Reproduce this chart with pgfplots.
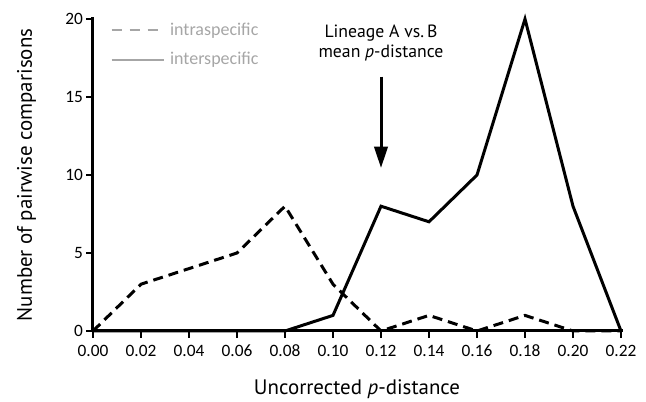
\documentclass[border=0pt]{standalone}
\usepackage{pgfplots}
\pgfplotsset{compat=1.18}
\usetikzlibrary{arrows.meta}
\usepackage{fontspec}
\setmainfont{Carlito}
\newfontfamily\labelfont{PT Sans}
\definecolor{leggray}{HTML}{A6A6A6}

\begin{document}
\begin{tikzpicture}
\begin{axis}[
    name=ax,
    scale only axis, width=396pt, height=234pt,
    xmin=0, xmax=0.22, ymin=0, ymax=20,
    axis line style={draw=none},
    xtick pos=bottom, ytick pos=left,
    xtick={0,0.02,...,0.22}, ytick={0,5,10,15,20},
    tick align=outside, major tick length=5pt,
    every major tick/.append style={draw=black, line width=1.8pt},
    /pgf/number format/assume math mode=true,
    ticklabel style={font=\fontsize{13}{15}\selectfont},
    xticklabel style={yshift=-2pt, /pgf/number format/.cd, fixed, fixed zerofill, precision=2},
    yticklabel style={xshift=1pt},
    xlabel={Uncorrected \textit{p}-distance}, ylabel={Number of pairwise comparisons},
    label style={font=\labelfont\fontsize{15.7}{18}\selectfont},
    xlabel style={at={(rel axis cs:0.5,0)}, anchor=base, yshift=-48pt},
    ylabel style={at={(rel axis cs:0,0.5)}, anchor=base, yshift=45.75pt},
    clip=false,
    legend style={draw=none, fill=none, at={(rel axis cs:0,1)}, anchor=north west,
        xshift=10pt, yshift=1.5pt, font=\fontsize{13.5}{15}\selectfont, text=leggray,
        row sep=7.5pt, nodes={inner sep=2pt}},
    legend cell align=left,
    legend image code/.code={\draw[#1] (0pt,0pt) -- (39pt,0pt);},
]
\addlegendimage{leggray, line width=1.6pt, dash pattern=on 7.5pt off 6pt}
\addlegendentry{\hspace{2pt}intraspecific}
\addlegendimage{leggray, line width=1.6pt}
\addlegendentry{\hspace{2pt}interspecific}

% axis lines (left and bottom only)
\draw[line width=2.25pt, line cap=rect] (rel axis cs:0,1) -- (rel axis cs:0,0) -- (rel axis cs:1,0);

% interspecific
\addplot[black, line width=2.25pt, forget plot] coordinates {
(0,0) (0.02,0) (0.04,0) (0.06,0) (0.08,0) (0.10,1) (0.12,8) (0.14,7) (0.16,10) (0.18,20) (0.20,8) (0.22,0)};
% intraspecific
\addplot[black, line width=2.25pt, dash pattern=on 7.5pt off 4.5pt, forget plot] coordinates {
(0,0) (0.02,3) (0.04,4) (0.06,5) (0.08,8) (0.10,3) (0.12,0) (0.14,1) (0.16,0) (0.18,1) (0.20,0) (0.22,0)};

\draw[-{Triangle[length=16pt,width=10pt]}, line width=2.25pt] (axis cs:0.12,16.3) -- (axis cs:0.12,10.45);
\node[font=\labelfont\fontsize{13.3}{15}\selectfont, anchor=base] at (axis cs:0.12,18.8) {Lineage A vs.\,B};
\node[font=\labelfont\fontsize{13.3}{15}\selectfont, anchor=base] at (axis cs:0.12,17.5) {mean \textit{p}-distance};
\end{axis}
\pgfresetboundingbox
\path (ax.south west) ++(-69.75pt,-53.25pt) rectangle ++(484.5pt,301.5pt);
\end{tikzpicture}
\end{document}
